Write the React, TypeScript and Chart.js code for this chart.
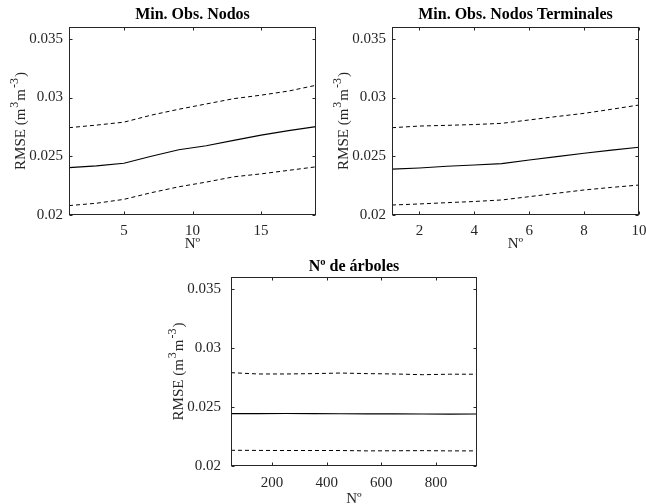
import React, { useEffect, useRef } from "react";
import { Chart, registerables } from "chart.js";
Chart.register(...registerables);

// ---------- data ----------
const yTicks = [0.02, 0.025, 0.03, 0.035];
const yMin = 0.02;
const yMax = 0.036;
// y title pieces: [text, isSuperscript]
const yTitleParts: [string, boolean][] = [
  ["RMSE (m", false],
  ["3", true],
  ["m", false],
  ["-3", true],
  [")", false],
];
const xTitle = "Nº";

const p1Title = "Min. Obs. Nodos";
const p1X = [1, 3, 5, 7, 9, 11, 13, 15, 17, 19];
const p1Mean = [0.02403, 0.02418, 0.0244, 0.025, 0.02555, 0.0259, 0.02635, 0.0268, 0.02718, 0.02752];
const p1Upper = [0.02743, 0.02765, 0.0279, 0.0285, 0.029, 0.02945, 0.0299, 0.0302, 0.03055, 0.03104];
const p1Lower = [0.0208, 0.021, 0.02133, 0.0219, 0.0224, 0.0228, 0.02325, 0.0235, 0.0238, 0.0241];
const p1XTicks = [5, 10, 15];

const p2Title = "Min. Obs. Nodos Terminales";
const p2X = [1, 2, 3, 4, 5, 6, 7, 8, 9, 10];
const p2Mean = [0.0239, 0.024, 0.02415, 0.02425, 0.02437, 0.02468, 0.02497, 0.02525, 0.02552, 0.02576];
const p2Upper = [0.02743, 0.02757, 0.02763, 0.0277, 0.0278, 0.02809, 0.02838, 0.02865, 0.029, 0.02936];
const p2Lower = [0.02085, 0.02094, 0.02105, 0.02115, 0.02128, 0.02156, 0.02185, 0.02213, 0.02235, 0.02255];
const p2XTicks = [2, 4, 6, 8, 10];

const p3Title = "Nº de árboles";
const p3X = [50, 150, 250, 350, 450, 550, 650, 750, 850, 950];
const p3Mean = [0.02443, 0.02443, 0.02444, 0.02443, 0.02442, 0.02441, 0.02441, 0.0244, 0.02439, 0.0244];
const p3Upper = [0.0279, 0.02779, 0.02779, 0.02782, 0.02787, 0.02782, 0.02779, 0.02773, 0.02777, 0.02777];
const p3Lower = [0.02133, 0.02132, 0.02131, 0.02131, 0.02131, 0.02128, 0.02129, 0.0213, 0.02128, 0.02128];
const p3XTicks = [200, 400, 600, 800];

// ---------- styling / layout ----------
const FONT = '"Liberation Serif", "Times New Roman", serif';
const AXIS_COLOR = "#262626";
const TICK_SIZE = 15;

const framePlugin = {
  id: "frame",
  afterDraw(chart: any, _args: any, opts: any) {
    const { ctx, chartArea: a, scales } = chart;
    ctx.save();
    ctx.strokeStyle = AXIS_COLOR;
    ctx.lineWidth = 1;
    const L = Math.round(a.left) + 0.5;
    const R = Math.round(a.right) - 0.5;
    const T = Math.round(a.top) + 0.5;
    const B = Math.round(a.bottom) - 0.5;
    ctx.strokeRect(L, T, R - L, B - T);
    const tl = 3;
    ctx.beginPath();
    scales.x.ticks.forEach((t: any) => {
      const px = Math.round(scales.x.getPixelForValue(t.value)) + 0.5;
      ctx.moveTo(px, B);
      ctx.lineTo(px, B - tl);
      ctx.moveTo(px, T);
      ctx.lineTo(px, T + tl);
    });
    scales.y.ticks.forEach((t: any) => {
      const py = Math.round(scales.y.getPixelForValue(t.value)) + 0.5;
      ctx.moveTo(L, py);
      ctx.lineTo(L + tl, py);
      ctx.moveTo(R, py);
      ctx.lineTo(R - tl, py);
    });
    ctx.stroke();

    // panel title
    ctx.fillStyle = "#000";
    ctx.font = `bold 16px ${FONT}`;
    ctx.textAlign = "center";
    ctx.textBaseline = "middle";
    ctx.fillText(opts.text, (a.left + a.right) / 2, a.top - opts.gap);

    // x title
    ctx.fillStyle = AXIS_COLOR;
    ctx.font = `15px ${FONT}`;
    ctx.fillText(xTitle, (a.left + a.right) / 2, a.bottom + opts.xTitleOff);

    // y title with superscripts (rotated)
    const mainFont = `15px ${FONT}`;
    const supFont = `12px ${FONT}`;
    let total = 0;
    const widths = yTitleParts.map(([t, sup]) => {
      ctx.font = sup ? supFont : mainFont;
      const w = ctx.measureText(t).width + (sup ? 2 : 0);
      total += w;
      return w;
    });
    ctx.translate(a.left - opts.yTitleOff, (a.top + a.bottom) / 2);
    ctx.rotate(-Math.PI / 2);
    ctx.textAlign = "left";
    ctx.textBaseline = "alphabetic";
    let x = -total / 2;
    yTitleParts.forEach(([t, sup], i) => {
      ctx.font = sup ? supFont : mainFont;
      ctx.fillText(t, x + (sup ? 1 : 0), sup ? -7 : 0);
      x += widths[i];
    });
    ctx.restore();
  },
};

type Panel = {
  title: string;
  xs: number[];
  mean: number[];
  upper: number[];
  lower: number[];
  xMin: number;
  xMax: number;
  xTicks: number[];
  left: number;
  top: number;
  width: number;
  height: number;
  padTop: number;
  padRight: number;
  yWidth: number;
  xHeight: number;
  yTickPad: number;
  xTickPad: number;
  titleGap: number;
  xTitleOff: number;
  yTitleOff: number;
};

const panels: Panel[] = [
  {
    title: p1Title, xs: p1X, mean: p1Mean, upper: p1Upper, lower: p1Lower,
    xMin: 1, xMax: 19, xTicks: p1XTicks,
    left: 0, top: 0, width: 323, height: 252,
    padTop: 27, padRight: 7, yWidth: 69, xHeight: 37,
    yTickPad: 6, xTickPad: 7, titleGap: 12, xTitleOff: 29, yTitleOff: 44,
  },
  {
    title: p2Title, xs: p2X, mean: p2Mean, upper: p2Upper, lower: p2Lower,
    xMin: 1, xMax: 10, xTicks: p2XTicks,
    left: 323, top: 0, width: 340, height: 252,
    padTop: 27, padRight: 24, yWidth: 69, xHeight: 37,
    yTickPad: 6, xTickPad: 7, titleGap: 12, xTitleOff: 29, yTitleOff: 44,
  },
  {
    title: p3Title, xs: p3X, mean: p3Mean, upper: p3Upper, lower: p3Lower,
    xMin: 50, xMax: 950, xTicks: p3XTicks,
    left: 160, top: 252, width: 340, height: 252,
    padTop: 25, padRight: 23, yWidth: 71, xHeight: 38,
    yTickPad: 10, xTickPad: 8, titleGap: 10, xTitleOff: 33, yTitleOff: 48,
  },
];

function PanelChart({ p }: { p: Panel }) {
  const ref = useRef<HTMLCanvasElement | null>(null);
  useEffect(() => {
    if (!ref.current) return;
    const toPts = (ys: number[]) => p.xs.map((x, i) => ({ x, y: ys[i] }));
    const font = { family: FONT, size: TICK_SIZE };
    const chart = new Chart(ref.current, {
      type: "line",
      data: {
        datasets: [
          { data: toPts(p.upper), borderColor: "#000", borderWidth: 1, borderDash: [4, 3], pointRadius: 0, tension: 0 },
          { data: toPts(p.mean), borderColor: "#000", borderWidth: 1.1, pointRadius: 0, tension: 0 },
          { data: toPts(p.lower), borderColor: "#000", borderWidth: 1, borderDash: [4, 3], pointRadius: 0, tension: 0 },
        ],
      },
      options: {
        animation: false,
        responsive: false,
        maintainAspectRatio: false,
        layout: { padding: { top: p.padTop, right: p.padRight, bottom: 0, left: 0 } },
        plugins: {
          legend: { display: false },
          tooltip: { enabled: false },
          title: { display: false },
          frame: { text: p.title, gap: p.titleGap, xTitleOff: p.xTitleOff, yTitleOff: p.yTitleOff },
        } as any,
        scales: {
          x: {
            type: "linear",
            min: p.xMin,
            max: p.xMax,
            grid: { display: false, drawTicks: false },
            border: { display: false },
            afterBuildTicks: (s: any) => { s.ticks = p.xTicks.map((v) => ({ value: v })); },
            afterFit: (s: any) => { s.height = p.xHeight; },
            ticks: { font, color: AXIS_COLOR, padding: p.xTickPad, maxRotation: 0, autoSkip: false, callback: (v: any) => String(v) },
            title: { display: false },
          },
          y: {
            type: "linear",
            min: yMin,
            max: yMax,
            grid: { display: false, drawTicks: false },
            border: { display: false },
            afterBuildTicks: (s: any) => { s.ticks = yTicks.map((v) => ({ value: v })); },
            afterFit: (s: any) => { s.width = p.yWidth; },
            ticks: { font, color: AXIS_COLOR, padding: p.yTickPad, autoSkip: false, callback: (v: any) => String(Number(Number(v).toFixed(3))) },
            title: { display: false },
          },
        },
      },
      plugins: [framePlugin as any],
    });
    return () => chart.destroy();
  }, [p]);
  return (
    <canvas
      ref={ref}
      width={p.width}
      height={p.height}
      style={{ position: "absolute", left: p.left, top: p.top, width: p.width, height: p.height }}
    />
  );
}

export default function App() {
  return (
    <div style={{ position: "fixed", left: 0, top: 0, width: 646, height: 504, overflow: "hidden", background: "#fff" }}>
      {panels.map((p, i) => (
        <PanelChart key={i} p={p} />
      ))}
    </div>
  );
}
